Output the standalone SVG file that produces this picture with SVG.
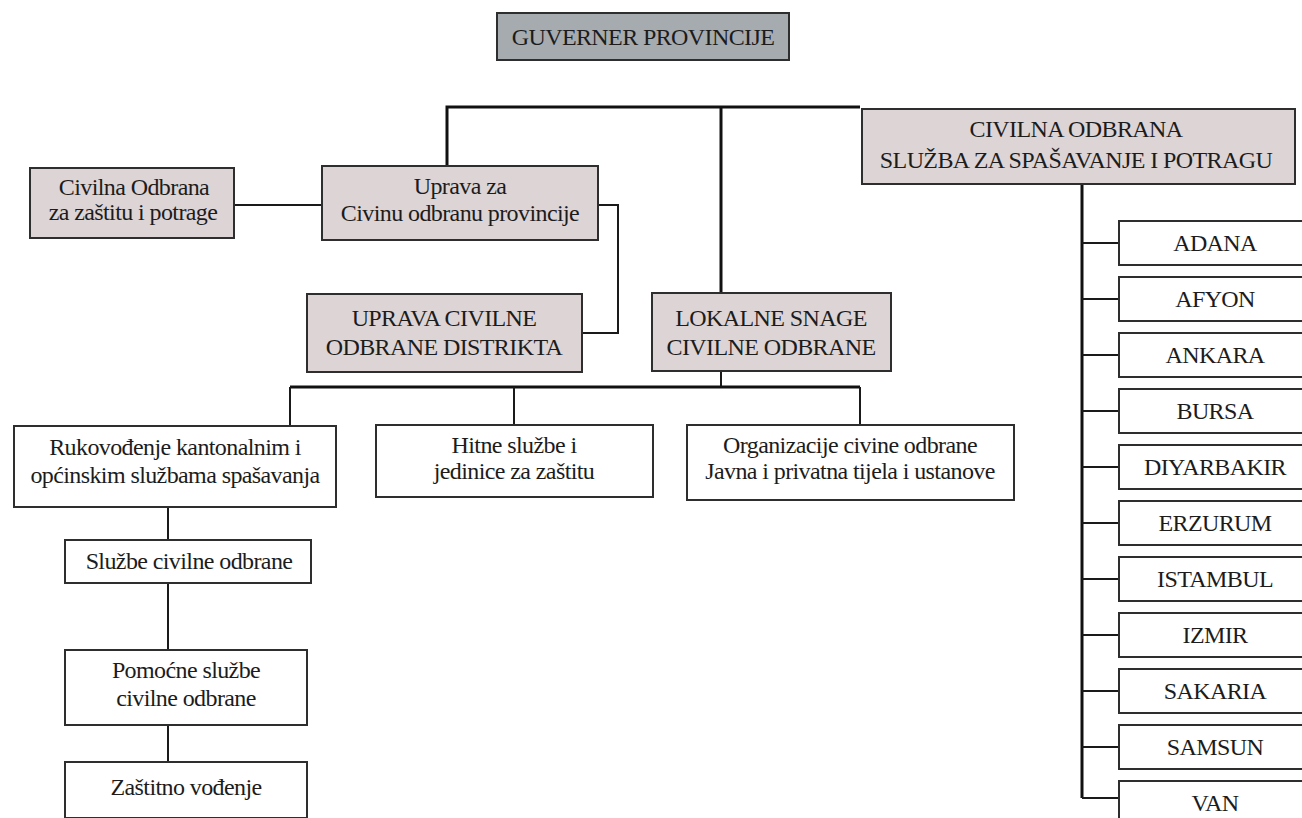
<svg xmlns="http://www.w3.org/2000/svg" width="1302" height="818" viewBox="0 0 1302 818">
<style>
  text { font-size: 24px; letter-spacing: -0.6px; fill: #1c1c1c; text-anchor: middle; }
  .box { fill: #ffffff; stroke: #2e2e2e; stroke-width: 2; }
  .pink { fill: #ddd4d6; stroke: #2e2e2e; stroke-width: 2; }
  .gray { fill: #a6abb0; stroke: #2e2e2e; stroke-width: 2; }
  .ln { fill: none; stroke: #1a1a1a; stroke-width: 2; }
  .thick { fill: none; stroke: #111111; stroke-width: 3; }
</style>
<rect width="1302" height="818" fill="#ffffff"/>
<g id="connectors">
  <path class="thick" d="M447,166 V107 H860"/>
  <path class="thick" d="M721,107 V293"/>
  <path class="ln" d="M234,205 H322"/>
  <path class="ln" d="M598,205 H618 V333 H582"/>
  <path class="ln" d="M721,371 V387"/>
  <path class="thick" d="M290,387 H860"/>
  <path class="ln" d="M290,387 V425 M514,387 V425 M860,387 V425"/>
  <path class="ln" d="M168,507 V540 M168,582 V650 M168,724 V762"/>
  <path class="thick" d="M1082,184 V798"/>
  <path class="ln" d="M1082,243 H1119 M1082,299 H1119 M1082,355 H1119 M1082,411 H1119 M1082,467 H1119 M1082,523 H1119 M1082,579 H1119 M1082,635 H1119 M1082,691 H1119 M1082,747 H1119 M1082,798 H1119"/>
</g>
<g font-family="Liberation Serif">
<g id="guverner">
  <rect class="gray" x="497" y="13" width="292" height="47"/>
  <text x="643" y="45" fill="#101a28">GUVERNER PROVINCIJE</text>
</g>
<g id="civilna-odbrana-zastita">
  <rect class="pink" x="30" y="168" width="204" height="70"/>
  <text x="134" y="195">Civilna Odbrana</text>
  <text x="133" y="220">za zaštitu i potrage</text>
</g>
<g id="uprava-provincije">
  <rect class="pink" x="322" y="166" width="276" height="74"/>
  <text x="460" y="194">Uprava za</text>
  <text x="460" y="221">Civinu odbranu provincije</text>
</g>
<g id="civilna-odbrana-sluzba">
  <rect class="pink" x="862" y="109" width="433" height="75"/>
  <text x="1076" y="137">CIVILNA ODBRANA</text>
  <text x="1076" y="168">SLUŽBA ZA SPAŠAVANJE I POTRAGU</text>
</g>
<g id="uprava-distrikta">
  <rect class="pink" x="307" y="294" width="275" height="78"/>
  <text x="444" y="326">UPRAVA CIVILNE</text>
  <text x="444" y="355">ODBRANE DISTRIKTA</text>
</g>
<g id="lokalne-snage">
  <rect class="pink" x="652" y="293" width="239" height="78"/>
  <text x="771" y="326">LOKALNE SNAGE</text>
  <text x="771" y="355">CIVILNE ODBRANE</text>
</g>
<g id="rukovodjenje">
  <rect class="box" x="14" y="426" width="322" height="81"/>
  <text x="175" y="455">Rukovođenje kantonalnim i</text>
  <text x="175" y="483">općinskim službama spašavanja</text>
</g>
<g id="hitne-sluzbe">
  <rect class="box" x="376" y="425" width="277" height="72"/>
  <text x="514" y="453">Hitne službe i</text>
  <text x="514" y="479">jedinice za zaštitu</text>
</g>
<g id="organizacije">
  <rect class="box" x="687" y="425" width="327" height="75"/>
  <text x="850" y="453">Organizacije civine odbrane</text>
  <text x="850" y="479">Javna i privatna tijela i ustanove</text>
</g>
<g id="sluzbe-civilne">
  <rect class="box" x="65" y="540" width="246" height="43"/>
  <text x="189" y="569">Službe civilne odbrane</text>
</g>
<g id="pomocne-sluzbe">
  <rect class="box" x="65" y="650" width="242" height="75"/>
  <text x="186" y="678">Pomoćne službe</text>
  <text x="186" y="706">civilne odbrane</text>
</g>
<g id="zastitno-vodjenje">
  <rect class="box" x="65" y="762" width="242" height="56"/>
  <text x="186" y="795">Zaštitno vođenje</text>
</g>
<g id="adana"><rect class="box" x="1119" y="221" width="196" height="44"/><text x="1215" y="251">ADANA</text></g>
<g id="afyon"><rect class="box" x="1119" y="277" width="196" height="44"/><text x="1215" y="307">AFYON</text></g>
<g id="ankara"><rect class="box" x="1119" y="333" width="196" height="44"/><text x="1215" y="363">ANKARA</text></g>
<g id="bursa"><rect class="box" x="1119" y="389" width="196" height="44"/><text x="1215" y="419">BURSA</text></g>
<g id="diyarbakir"><rect class="box" x="1119" y="445" width="196" height="44"/><text x="1215" y="475">DIYARBAKIR</text></g>
<g id="erzurum"><rect class="box" x="1119" y="501" width="196" height="44"/><text x="1215" y="531">ERZURUM</text></g>
<g id="istambul"><rect class="box" x="1119" y="557" width="196" height="44"/><text x="1215" y="587">ISTAMBUL</text></g>
<g id="izmir"><rect class="box" x="1119" y="613" width="196" height="44"/><text x="1215" y="643">IZMIR</text></g>
<g id="sakaria"><rect class="box" x="1119" y="669" width="196" height="44"/><text x="1215" y="699">SAKARIA</text></g>
<g id="samsun"><rect class="box" x="1119" y="725" width="196" height="44"/><text x="1215" y="755">SAMSUN</text></g>
<g id="van"><rect class="box" x="1119" y="781" width="196" height="44"/><text x="1215" y="811">VAN</text></g>
</g>
</svg>
